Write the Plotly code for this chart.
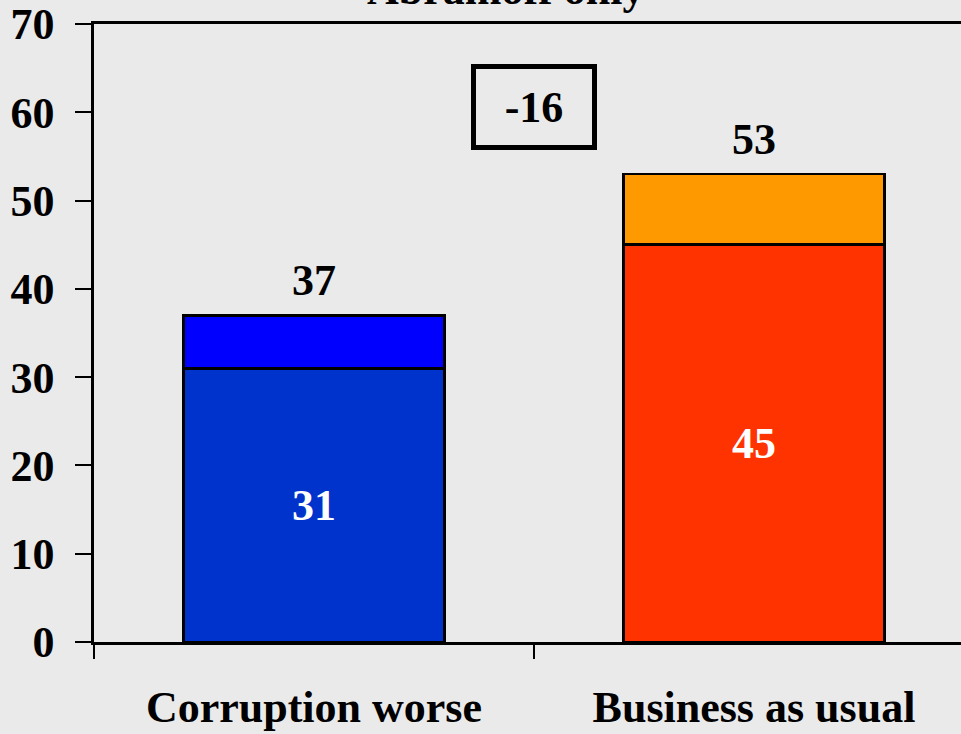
import plotly.graph_objects as go

categories = ["Corruption worse", "Business as usual"]
strong = [31, 45]
total = [37, 53]
soft = [t - s for t, s in zip(total, strong)]
strong_colors = ["#0033CC", "#FF3300"]
soft_colors = ["#0000FF", "#FF9900"]
y_ticks = [0, 10, 20, 30, 40, 50, 60, 70]
title = "Abramoff only"

FONT = "Liberation Serif, Times New Roman, serif"
BG = "#EAEAEA"

fig = go.Figure()
fig.add_trace(go.Bar(
    x=categories, y=strong, width=0.593,
    marker=dict(color=strong_colors, line=dict(color="black", width=2.5)),
    text=[str(v) for v in strong], textposition="inside", insidetextanchor="middle",
    textfont=dict(family=FONT, size=44, color="white", weight="bold"),
    hoverinfo="skip",
))
fig.add_trace(go.Bar(
    x=categories, y=soft, width=0.593,
    marker=dict(color=soft_colors, line=dict(color="black", width=2.5)),
    hoverinfo="skip",
))

for c, t in zip(categories, total):
    fig.add_annotation(x=c, y=t, text=str(t), showarrow=False, yanchor="bottom", yshift=8,
                       font=dict(family=FONT, size=44, color="black", weight="bold"))

fig.add_annotation(x=0.5, y=60.6, xref="x", yref="y", text=str(total[0] - total[1]),
                   showarrow=False, width=112, height=72, bordercolor="black",
                   borderwidth=5, borderpad=2,
                   font=dict(family=FONT, size=44, color="black", weight="bold"))

fig.add_annotation(x=0.475, y=1, xref="paper", yref="paper", text=title,
                   showarrow=False, yanchor="bottom", yshift=8,
                   font=dict(family=FONT, size=44, color="black", weight="bold"))

fig.update_layout(
    barmode="stack", showlegend=False,
    width=961, height=734,
    margin=dict(l=94, r=0, t=22, b=92),
    paper_bgcolor=BG, plot_bgcolor=BG,
    font=dict(family=FONT, size=44, color="black", weight="bold"),
)
fig.update_xaxes(
    range=[-0.5, 1.4705], showline=True, linecolor="black", linewidth=2.5, mirror=True,
    ticks="outside", tickson="boundaries", ticklen=14, tickwidth=2, tickcolor="black",
    showgrid=False, ticklabelstandoff=24, ticklabeloverflow="allow",
)
fig.update_yaxes(
    range=[0, 70], tickvals=y_ticks, showline=True, linecolor="black", linewidth=2.5,
    ticks="outside", ticklen=16, tickwidth=2, tickcolor="black",
    showgrid=False, zeroline=False, ticklabelstandoff=12, ticklabeloverflow="allow",
)

fig.write_html(
    "out.html",
    config={"displayModeBar": False},
    post_script="document.body.style.margin='0';document.body.style.overflow='hidden';",
)
